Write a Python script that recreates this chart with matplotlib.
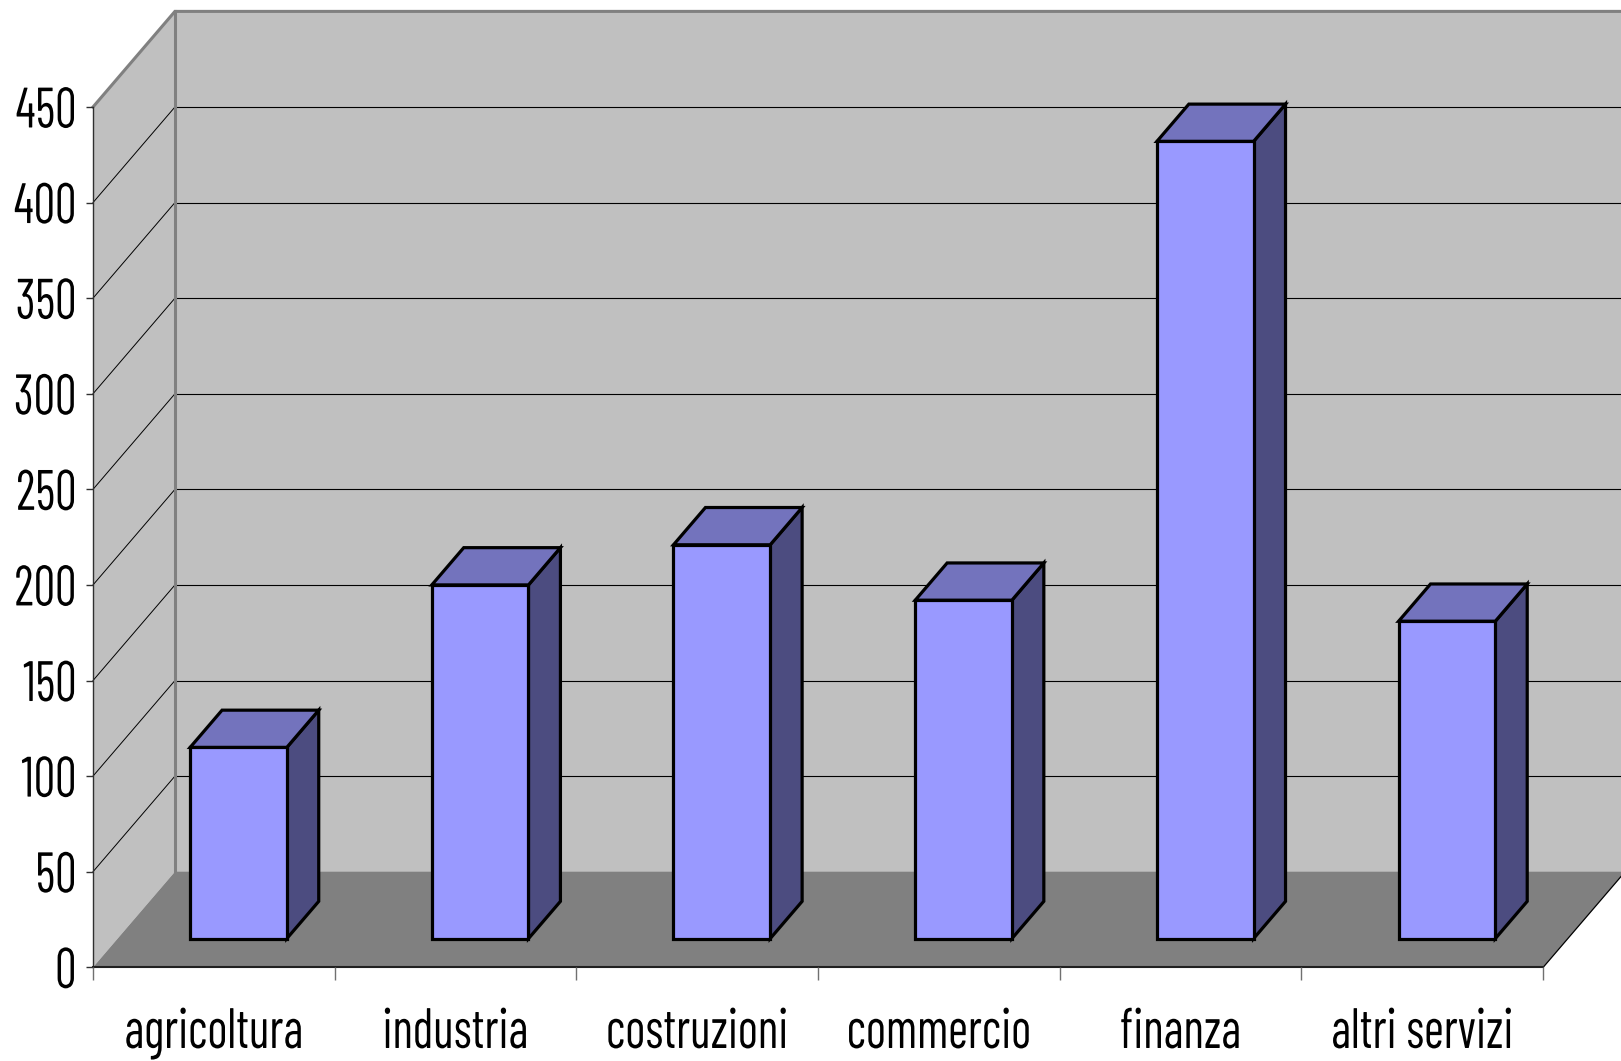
import matplotlib
matplotlib.use("Agg")
import matplotlib.pyplot as plt
from matplotlib.patches import Polygon
from matplotlib.patheffects import AbstractPathEffect
from matplotlib.text import Text
from matplotlib.transforms import Affine2D, Bbox, offset_copy

# ---- data ----
categories = ["agricoltura", "industria", "costruzioni", "commercio", "finanza", "altri servizi"]
values = [100, 185, 206, 177, 417, 166]
y_ticks = [0, 50, 100, 150, 200, 250, 300, 350, 400, 450]
y_tick_labels = [str(t) for t in y_ticks]

# ---- oblique 3D geometry (depth offset expressed in data units) ----
DEPTH_X = 0.339     # shift in category units for full depth
DEPTH_Y = 50.0      # shift in value units for full depth
BAR_FRONT, BAR_BACK = 0.30, 0.69
BAR_WIDTH = 0.40
Y_MAX = y_ticks[-1]
N = len(categories)

FRONT_C = "#9999FF"
TOP_C = "#7373BD"
SIDE_C = "#4C4C80"
WALL_C = "#C0C0C0"
FLOOR_C = "#808080"

FAMILY = "Barlow Condensed"
FONT_SIZE = 41
LABEL_W_PX = 61.0   # drawn width of a three-digit value label


def proj(x, y, d):
    return (x + d * DEPTH_X, y + d * DEPTH_Y)


class Squeeze(AbstractPathEffect):
    """Horizontally condense a text path around an anchor."""

    def __init__(self, sx, anchor="center"):
        super().__init__()
        self.sx = sx
        self.anchor = anchor

    def draw_path(self, renderer, gc, tpath, affine, rgbFace=None):
        ext = tpath.get_extents(affine)
        if self.anchor == "right":
            cx = ext.x1
        elif self.anchor == "left":
            cx = ext.x0
        else:
            cx = 0.5 * (ext.x0 + ext.x1)
        t = affine + Affine2D().translate(-cx, 0).scale(self.sx, 1.0).translate(cx, 0)
        renderer.draw_path(gc, tpath, t, rgbFace)


class CondensedText(Text):
    """Text drawn horizontally condensed, reporting its condensed extent."""

    def __init__(self, *args, sx=1.0, anchor="center", **kwargs):
        super().__init__(*args, **kwargs)
        self._sx = sx
        self._anchor = anchor
        self.set_path_effects([Squeeze(sx, anchor)])

    def get_window_extent(self, renderer=None, dpi=None):
        bb = super().get_window_extent(renderer, dpi)
        w = bb.width * self._sx
        if self._anchor == "right":
            x0, x1 = bb.x1 - w, bb.x1
        elif self._anchor == "left":
            x0, x1 = bb.x0, bb.x0 + w
        else:
            c = 0.5 * (bb.x0 + bb.x1)
            x0, x1 = c - w / 2, c + w / 2
        return Bbox.from_extents(x0, bb.y0, x1, bb.y1)


fig = plt.figure(figsize=(16.21, 10.61), dpi=100)
ax = fig.add_axes([0, 0, 1, 1])
ax.set_xlim(-0.3848, 6.3219)
ax.set_ylim(-49.01, 505.96)
ax.axis("off")

# condensing factor from the natural width of a value label
renderer = fig.canvas.get_renderer()
probe = fig.text(0, 0, "450", fontsize=FONT_SIZE, family=FAMILY)
SQUEEZE = min(1.0, LABEL_W_PX / probe.get_window_extent(renderer).width)
probe.remove()

# floor and walls
floor = [proj(0, 0, 0), proj(N, 0, 0), proj(N, 0, 1), proj(0, 0, 1)]
left_wall = [proj(0, 0, 0), proj(0, 0, 1), proj(0, Y_MAX, 1), proj(0, Y_MAX, 0)]
back_wall = [proj(0, 0, 1), proj(N, 0, 1), proj(N, Y_MAX, 1), proj(0, Y_MAX, 1)]
ax.add_patch(Polygon(back_wall, closed=True, facecolor=WALL_C, edgecolor="none", zorder=1))
ax.add_patch(Polygon(left_wall, closed=True, facecolor=WALL_C, edgecolor="none", zorder=1))
ax.add_patch(Polygon(floor, closed=True, facecolor=FLOOR_C, edgecolor="none", zorder=1))

# gridlines on back and side walls
for v in y_ticks[1:-1]:
    bx0, by0 = proj(0, v, 1)
    bx1, by1 = proj(N, v, 1)
    ax.plot([bx0, bx1], [by0, by1], color="black", lw=0.8, zorder=2, solid_capstyle="butt")
    fx, fy = proj(0, v, 0)
    ax.plot([fx, bx0], [fy, by0], color="black", lw=0.7, zorder=2)

# wall borders
pts = [proj(0, Y_MAX, 0), proj(0, Y_MAX, 1), proj(N, Y_MAX, 1)]
ax.plot([p[0] for p in pts], [p[1] for p in pts], color="#808080", lw=2.2, zorder=3,
        solid_joinstyle="miter")
pts = [proj(0, 0, 1), proj(0, Y_MAX, 1)]
ax.plot([p[0] for p in pts], [p[1] for p in pts], color="#808080", lw=2.2, zorder=3)
pts = [proj(N, 0, 0), proj(N, 0, 1)]
ax.plot([p[0] for p in pts], [p[1] for p in pts], color="black", lw=0.9, zorder=3)

# axes lines and ticks
ax.plot([0, 0], [0, Y_MAX], color="#303030", lw=1.0, zorder=4)
ax.plot([0, N], [0, 0], color="#202020", lw=1.5, zorder=4)
ax.plot([0] * len(y_ticks), y_ticks, linestyle="none", marker=0, markersize=5,
        markeredgecolor="#303030", markeredgewidth=1.0, zorder=4)
ax.plot(list(range(N + 1)), [0] * (N + 1), linestyle="none", marker=3, markersize=9,
        markeredgecolor="#707070", markeredgewidth=1.0, zorder=4)

# bars
for i, v in enumerate(values):
    x0 = i + 0.5 - BAR_WIDTH / 2
    x1 = x0 + BAR_WIDTH
    f, b = BAR_FRONT, BAR_BACK
    side = [proj(x1, 0, f), proj(x1, 0, b), proj(x1, v, b), proj(x1, v, f)]
    top = [proj(x0, v, f), proj(x1, v, f), proj(x1, v, b), proj(x0, v, b)]
    front = [proj(x0, 0, f), proj(x1, 0, f), proj(x1, v, f), proj(x0, v, f)]
    for poly, col in ((side, SIDE_C), (top, TOP_C), (front, FRONT_C)):
        ax.add_patch(Polygon(poly, closed=True, facecolor=col, edgecolor="black",
                             lw=2.3, joinstyle="miter", zorder=5))

# value axis labels
ylab_tr = offset_copy(ax.transData, fig=fig, x=-16, y=-20.5, units="dots")
for t, lab in zip(y_ticks, y_tick_labels):
    ax.add_artist(CondensedText(0, t, lab, transform=ylab_tr, ha="right", va="baseline",
                                fontsize=FONT_SIZE, family=FAMILY, color="black",
                                sx=SQUEEZE, anchor="right"))

# category labels
xlab_tr = offset_copy(ax.transData, fig=fig, x=0, y=-80.7, units="dots")
for i, lab in enumerate(categories):
    ax.add_artist(CondensedText(i + 0.5, 0, lab, transform=xlab_tr, ha="center",
                                va="baseline", fontsize=FONT_SIZE, family=FAMILY,
                                color="black", sx=SQUEEZE, anchor="center"))

fig.savefig("out.png", dpi=100, facecolor="white")
